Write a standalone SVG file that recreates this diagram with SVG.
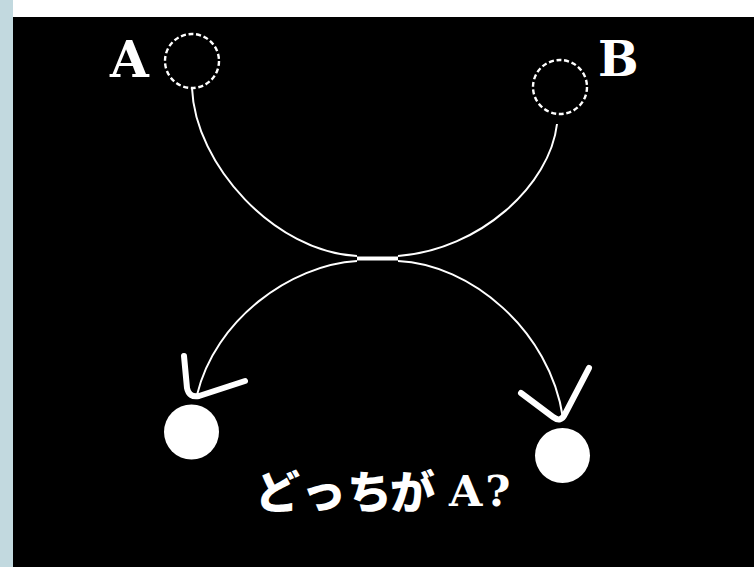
<svg xmlns="http://www.w3.org/2000/svg" width="754" height="567" viewBox="0 0 754 567">
<defs>
<style>
.dash{fill:none;stroke:#fff;stroke-width:2.4;stroke-dasharray:5 2.7}
.dot{fill:#fff}
.conn{fill:none;stroke:#fff;stroke-width:2}
.head{fill:none;stroke:#fff;stroke-width:6;stroke-linecap:round;stroke-linejoin:round}
.lbl{font-family:"DejaVu Serif","Liberation Serif",serif;font-weight:bold;fill:#fff}
.jp{font-family:"Noto Sans CJK JP","Noto Sans CJK SC",sans-serif;font-weight:900;fill:#fff}
</style>
</defs>
<rect x="0" y="0" width="754" height="567" fill="#ffffff"/>
<rect x="0" y="0" width="13" height="567" fill="#c2d9df"/>
<rect x="13" y="17" width="741" height="550" fill="#000000"/>

<g id="connectors">
<path class="conn" d="M192,88 C195,165 275,252 357,256"/>
<path class="conn" d="M557,124 C550,185 480,250 398,256"/>
<line x1="357" y1="258.5" x2="398" y2="258.5" stroke="#fff" stroke-width="4"/>
<path class="conn" d="M357,261 C290,265 215,320 197,395"/>
<path class="conn" d="M398,261 C470,264 550,330 563,418"/>
<path class="head" d="M184,356 L187,388 Q189,398 199,396 L245,381"/>
<path class="head" d="M521,393 L553,417 Q561,423 565,414 L589,368"/>
</g>

<g id="nodeA">
<circle class="dash" cx="192" cy="61" r="27"/>
<text class="lbl" x="110" y="77" font-size="50">A</text>
</g>
<g id="nodeB">
<circle class="dash" cx="560" cy="87" r="27"/>
<text class="lbl" x="598" y="76" font-size="48">B</text>
</g>
<g id="nodeLeft">
<circle class="dot" cx="191.5" cy="432" r="27.5"/>
</g>
<g id="nodeRight">
<circle class="dot" cx="562.5" cy="455.5" r="27.5"/>
</g>
<g id="question">
<text class="jp" x="255 301 347 390" y="509" font-size="45">どっちが</text>
<text class="lbl" x="449" y="506" font-size="43" letter-spacing="3">A?</text>
</g>
</svg>
